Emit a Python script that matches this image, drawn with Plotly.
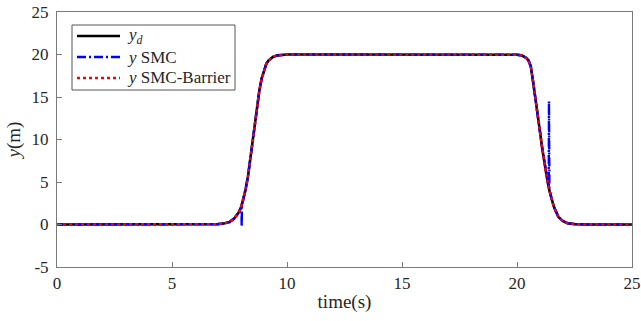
import plotly.graph_objects as go

# time samples (s)
t = [0, 5, 6.5, 7.0, 7.3, 7.5, 7.7, 7.9, 8.0, 8.1, 8.2, 8.3, 8.4, 8.5, 8.6, 8.7, 8.8, 8.9,
     9.0, 9.1, 9.2, 9.4, 9.6, 9.8, 10.0, 12, 15, 18, 19.5, 19.8, 20.0, 20.2, 20.4, 20.5,
     20.6, 20.7, 20.8, 20.9, 21.0, 21.1, 21.2, 21.3, 21.4, 21.5, 21.6, 21.8, 22.0, 22.2,
     22.5, 23, 25]
# desired trajectory y_d (m)
y_d = [0, 0, 0.02, 0.05, 0.15, 0.3, 0.7, 1.4, 2.0, 2.9, 4.1, 5.6, 7.6, 9.8, 12.0, 14.0, 15.8, 17.2,
       18.2, 18.9, 19.3, 19.75, 19.9, 19.97, 20, 20, 20, 20, 20, 20, 19.97, 19.9, 19.6, 19.3,
       18.6, 16.8, 15.0, 13.0, 10.9, 8.9, 7.1, 5.5, 4.1, 3.0, 2.1, 0.9, 0.4, 0.15,
       0.05, 0.01, 0]

# SMC response (with chattering spikes)
t_smc = [0, 5, 6.5, 7.0, 7.3, 7.5, 7.7, 7.9, 8.0, 8.02, 8.03, 8.04, 8.1, 8.2, 8.3, 8.4, 8.5, 8.6,
         8.7, 8.8, 8.9, 9.0, 9.1, 9.2, 9.4, 9.6, 9.8, 10.0, 12, 15, 18, 19.5, 19.8, 20.0, 20.2,
         20.4, 20.5, 20.6, 20.7, 20.8, 20.9, 21.0, 21.1, 21.2, 21.3, 21.36, 21.38, 21.39,
         21.40, 21.41, 21.5, 21.6, 21.8, 22.0, 22.2, 22.5, 23, 25]
y_smc = [0, 0, 0.02, 0.05, 0.15, 0.3, 0.7, 1.4, 2.0, 2.2, -0.3, 2.3, 2.9, 4.1, 5.6, 7.6, 9.8, 12.0,
         14.0, 15.8, 17.2, 18.2, 18.9, 19.3, 19.75, 19.9, 19.97, 20, 20, 20, 20, 20, 20, 19.97, 19.9,
         19.6, 19.3, 18.6, 16.8, 15.0, 13.0, 10.9, 8.9, 7.1, 5.5, 4.7, 4.4, 14.5,
         4.3, 4.1, 3.0, 2.1, 0.9, 0.4, 0.15, 0.05, 0.01, 0]

# SMC-Barrier response
y_barrier = [0, 0, 0.02, 0.05, 0.15, 0.3, 0.7, 1.4, 2.0, 2.9, 4.1, 5.6, 7.6, 9.8, 12.0, 14.0, 15.8, 17.2,
             18.2, 18.9, 19.3, 19.75, 19.9, 19.97, 20, 20, 20, 20, 20, 20, 19.97, 19.9, 19.6, 19.3,
             18.6, 16.8, 15.0, 13.0, 10.9, 8.9, 7.1, 5.5, 4.1, 3.0, 2.1, 0.9, 0.4, 0.15,
             0.05, 0.01, 0]

series_names = ["<i>y</i><sub><i>d</i></sub>", "<i>y</i> SMC", "<i>y</i> SMC-Barrier"]
x_ticks = [0, 5, 10, 15, 20, 25]
y_ticks = [-5, 0, 5, 10, 15, 20, 25]

font = "Liberation Serif, Times New Roman, serif"
styles = [dict(color="black", width=2.6),
          dict(color="#0000ff", width=2.4, dash="9px,3px,2px,3px"),
          dict(color="#ff0000", width=2.4, dash="3px,3px")]

fig = go.Figure()
for xs, ys, nm, st in [(t, y_d, series_names[0], styles[0]),
                       (t_smc, y_smc, series_names[1], styles[1]),
                       (t, y_barrier, series_names[2], styles[2])]:
    fig.add_trace(go.Scatter(x=xs, y=ys, mode="lines", name=nm, line=st, showlegend=False))

axis_common = dict(showline=True, linecolor="#7a7a7a", linewidth=1, mirror=True,
                   ticks="inside", ticklen=5, tickcolor="#7a7a7a", showgrid=False,
                   zeroline=False, automargin=False, ticklabeloverflow="allow",
                   tickfont=dict(family=font, size=17, color="#262626"))

fig.update_xaxes(range=[0, 25], tickvals=x_ticks, ticktext=[str(v) for v in x_ticks],
                 ticklabelstandoff=1,
                 title=dict(text="time(s)", font=dict(family=font, size=19, color="#262626"),
                            standoff=2),
                 **axis_common)
fig.update_yaxes(range=[-5, 25], tickvals=y_ticks, ticktext=[str(v) for v in y_ticks],
                 ticklabelstandoff=4,
                 title=dict(text="<i>y</i>(m)", font=dict(family=font, size=19, color="#262626"),
                            standoff=5),
                 **axis_common)

# manual legend box (paper coordinates relative to the plot area)
fig.add_shape(type="rect", xref="paper", yref="paper", x0=0.0261, x1=0.3096, y0=0.694, y1=0.949,
              line=dict(color="#555555", width=1), fillcolor="white", layer="above")
row_y = [0.9059, 0.8235, 0.7412]
for ry, nm, st in zip(row_y, series_names, styles):
    fig.add_shape(type="line", xref="paper", yref="paper", x0=0.0348, x1=0.1096, y0=ry, y1=ry,
                  line=st, layer="above")
    fig.add_annotation(xref="paper", yref="paper", x=0.1183, y=ry, xanchor="left", yanchor="middle",
                       text=nm, showarrow=False,
                       font=dict(family=font, size=17, color="#262626"))

fig.update_layout(
    width=641, height=321,
    margin=dict(l=57, r=9, t=12, b=54),
    plot_bgcolor="white", paper_bgcolor="white",
    font=dict(family=font, color="#262626"),
    showlegend=False,
)

# remove the default 8px page margin so the 641x321 figure fills the window exactly
fig.write_html("out.html", config={"displayModeBar": False, "staticPlot": True},
               post_script="document.body.style.margin='0';document.body.style.overflow='hidden';")
